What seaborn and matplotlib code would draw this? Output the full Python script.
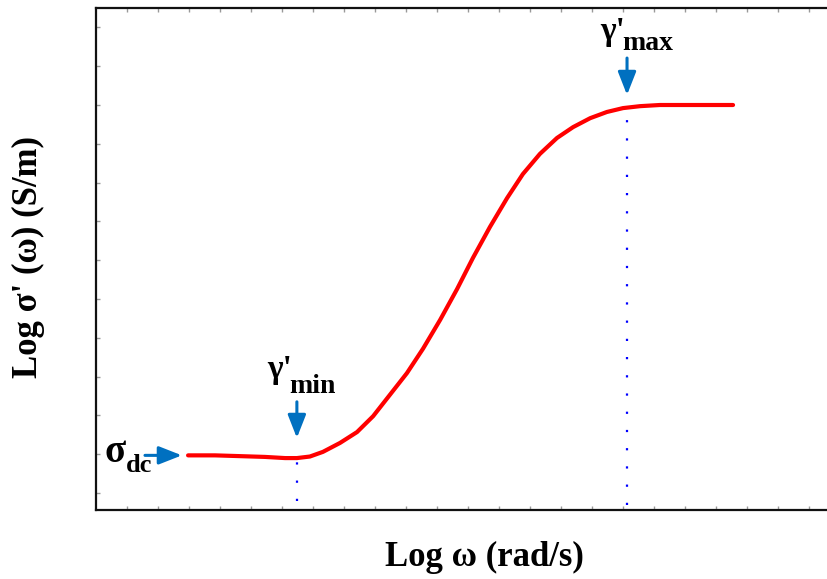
import numpy as np
import pandas as pd
import matplotlib
matplotlib.use("Agg")
import matplotlib.pyplot as plt
import seaborn as sns

# conductivity curve (arbitrary log units)
log_w = [2.97, 3.84, 4.65, 5.45, 6.10, 6.48, 6.90, 7.32, 7.87, 8.42, 8.94,
         9.48, 10.03, 10.55, 11.10, 11.65, 12.16, 12.71, 13.26, 13.77, 14.32,
         14.87, 15.39, 15.94, 16.48, 17.00, 17.55, 18.19, 19.48, 20.55]
log_sigma = [0.97, 0.97, 0.95, 0.93, 0.90, 0.90, 0.94, 1.06, 1.29, 1.57, 1.98,
             2.53, 3.09, 3.72, 4.46, 5.26, 6.06, 6.86, 7.60, 8.22, 8.74,
             9.15, 9.43, 9.66, 9.82, 9.92, 9.97, 10.0, 10.0, 10.0]

gamma_min_x = 6.48
gamma_max_x = 17.13
sigma_dc = 0.97

df = pd.DataFrame({"log_w": log_w, "log_sigma": log_sigma})

sns.set_style("white")
plt.rcParams["font.family"] = ["Liberation Serif", "DejaVu Serif"]
plt.rcParams["font.weight"] = "bold"
plt.rcParams["text.color"] = "black"

fig = plt.figure(figsize=(8.28, 5.79), dpi=100)
ax = fig.add_axes([96 / 828, 69 / 579, 732 / 828, 502 / 579])

sns.lineplot(data=df, x="log_w", y="log_sigma", color="#ff0000", linewidth=3, ax=ax)

# dotted markers at gamma min / max
blue = "#0070c0"
ax.plot([gamma_min_x, gamma_min_x], [-0.2, 0.9], color="#0000ff",
        linewidth=1.6, linestyle=(0, (1, 7.2)))
ax.plot([gamma_max_x, gamma_max_x], [-0.3, 9.95], color="#0000ff",
        linewidth=1.6, linestyle=(0, (1, 7.2)))

arrow = dict(arrowstyle="-|>,head_length=14,head_width=5.5", color=blue,
             lw=2.2, shrinkA=0, shrinkB=0, mutation_scale=1)
ax.annotate("", xy=(2.77, sigma_dc), xytext=(1.58, sigma_dc), arrowprops=arrow)
ax.annotate("", xy=(gamma_min_x, 1.42), xytext=(gamma_min_x, 2.35), arrowprops=arrow)
ax.annotate("", xy=(gamma_max_x, 10.26), xytext=(gamma_max_x, 11.21), arrowprops=arrow)

ax.text(0.61, 0.8, "σ", fontsize=28, ha="center", va="baseline", fontweight="bold")
ax.text(0.97, 0.54, "dc", fontsize=19, ha="left", va="baseline", fontweight="bold")
ax.text(5.52, 2.96, "γ'", fontsize=24, ha="left", va="baseline", fontweight="bold")
ax.text(6.23, 2.58, "min", fontsize=20, ha="left", va="baseline", fontweight="bold")
ax.text(16.26, 11.68, "γ'", fontsize=24, ha="left", va="baseline", fontweight="bold")
ax.text(16.97, 11.42, "max", fontsize=20, ha="left", va="baseline", fontweight="bold")

ax.set_xlim(0, 732 / 31)
ax.set_ylim(-17 / 38.8, 485 / 38.8)
ax.set_xticks(np.arange(1, 24))
ax.set_yticks(np.arange(0, 13))
ax.set_xticklabels([])
ax.set_yticklabels([])
ax.tick_params(direction="in", length=3, width=1, color="#999999",
               top=True, bottom=True, left=True, right=False)
ax.set_xlabel("")
ax.set_ylabel("")
for s in ["left", "top", "bottom"]:
    ax.spines[s].set_color("#111111")
    ax.spines[s].set_linewidth(1.6)
ax.spines["right"].set_visible(False)

fig.text(484 / 828, 1 - 557 / 579, "Log ω (rad/s)", fontsize=25, fontweight="bold",
         ha="center", va="center")
fig.text(28 / 828, 1 - 257 / 579, "Log σ' (ω) (S/m)", fontsize=25, fontweight="bold",
         ha="center", va="center", rotation=90)

fig.savefig("out.png", dpi=100)
